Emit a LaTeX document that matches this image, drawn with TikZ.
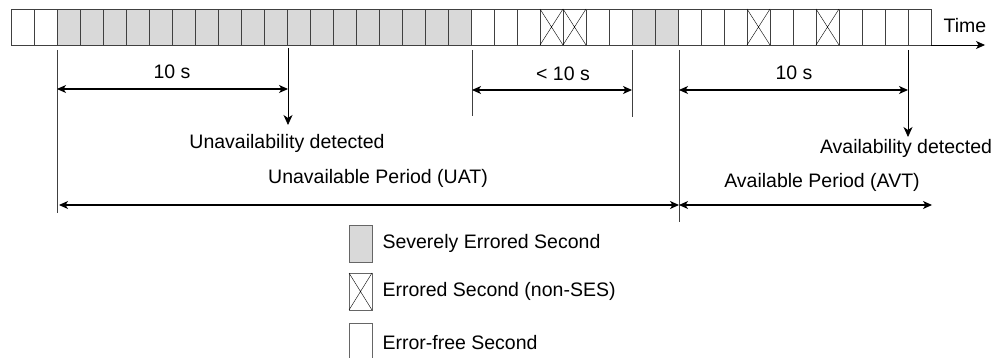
\documentclass[tikz,border=0pt]{standalone}
\usepackage{fontspec}
\setmainfont{Liberation Sans}
\usetikzlibrary{arrows.meta,positioning}

\begin{document}
\begin{tikzpicture}[x=1pt,y=-1pt,>={Stealth[length=9pt,width=8pt,inset=2.5pt]},
  font=\fontsize{19.5}{23}\selectfont,
  sec/.style={draw=black!75,line width=0.8pt,minimum width=23pt,minimum height=36pt,inner sep=0pt,outer sep=0pt},
  ses/.style={sec,fill=black!15},
  legbox/.style={draw=black!60,minimum height=37pt},
  tick/.style={draw=black!75,line width=0.8pt},
  span/.style={<->,line width=1.1pt}]
\useasboundingbox (0,0) rectangle (1003,358);
% time strip
\foreach \i in {0,...,39}
  \node[sec] (c\i) at ({22.5+23*\i},27) {};
\foreach \i in {2,...,19}
  \node[ses] at (c\i) {};
\foreach \i in {27,28}
  \node[ses] at (c\i) {};
\foreach \i in {23,24,32,35}
  \draw[thin] (c\i.north west) -- (c\i.south east) (c\i.north east) -- (c\i.south west);
\coordinate (tend) at (985,45);
\draw[->,line width=0.8pt] (c39.south east) -- (tend);
\node (time) at (965,26) {Time};
% ticks
\coordinate (a0) at (57,50);  \coordinate (a1) at (57,213);
\coordinate (b0) at (288,48); \coordinate (b1) at (288,125);
\coordinate (d0) at (472,50); \coordinate (d1) at (472,116);
\coordinate (e0) at (632,50); \coordinate (e1) at (632,117);
\coordinate (f0) at (679,50); \coordinate (f1) at (679,222);
\coordinate (g0) at (908,50); \coordinate (g1) at (908,137);
\draw[tick] (a0) -- (a1);
\draw[tick,draw=black,->,>={Stealth[length=10pt,width=9pt,inset=3pt]}] (b0) -- (b1);
\draw[tick] (d0) -- (d1);
\draw[tick] (e0) -- (e1);
\draw[tick] (f0) -- (f1);
\draw[tick,draw=black,->,>={Stealth[length=10pt,width=9pt,inset=3pt]}] (g0) -- (g1);
% spans
\coordinate (s1) at (57,89);  \coordinate (s2) at (288,89);
\coordinate (s3) at (472,90); \coordinate (s4) at (632,90);
\coordinate (s5) at (679,90); \coordinate (s6) at (908,90);
\coordinate (p1) at (59,205); \coordinate (p2) at (679,205);
\coordinate (p3) at (932,205);
\draw[span] (s1) -- (s2);
\draw[span] (s3) -- (s4);
\draw[span] (s5) -- (s6);
\draw[span] (p1) -- (p2);
\draw[span] (p2) -- (p3);
% labels
\node (l1) at (172,72) {10 s};
\node (l2) at (563,74) {< 10 s};
\node (l3) at (794,73) {10 s};
\node (ud) at (287,143) {Unavailability detected};
\node (ad) at (906,148) {Availability detected};
\node (uat) at (378,178) {Unavailable Period (UAT)};
\node (avt) at (822,182) {Available Period (AVT)};
% legend
\node[ses,legbox] (lses) at (360.5,243.5) {};
\node[sec,legbox] (les) at (360.5,291.5) {};
\draw[thin] (les.north west) -- (les.south east) (les.north east) -- (les.south west);
\node[sec,legbox] (lef) at (360.5,341.5) {};
\node[right=7pt of lses] {Severely Errored Second};
\node[right=7pt of les] {Errored Second (non-SES)};
\node[right=7pt of lef,yshift=-1.5pt] {Error-free Second};
\end{tikzpicture}
\end{document}
